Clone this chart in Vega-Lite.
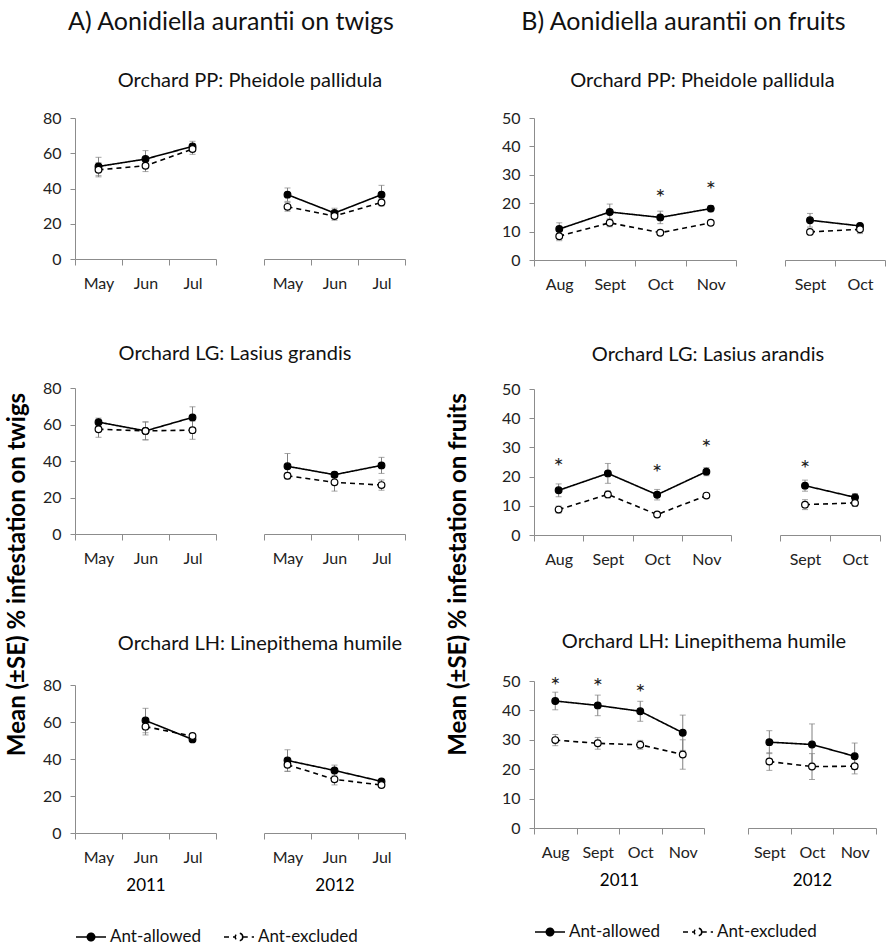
{
"$schema": "https://vega.github.io/schema/vega-lite/v6.json",
"padding": {"left": 5, "top": 10, "right": 0, "bottom": 0},
"data": {"values": [
{"c":"A","r":1,"yr":"2011","m":"May","s":"Ant-allowed","v":52.5,"se":5.2},
{"c":"A","r":1,"yr":"2011","m":"May","s":"Ant-excluded","v":50.6,"se":4},
{"c":"A","r":1,"yr":"2011","m":"Jun","s":"Ant-allowed","v":56.7,"se":4.8},
{"c":"A","r":1,"yr":"2011","m":"Jun","s":"Ant-excluded","v":52.9,"se":3.3},
{"c":"A","r":1,"yr":"2011","m":"Jul","s":"Ant-allowed","v":63.9,"se":2.9},
{"c":"A","r":1,"yr":"2011","m":"Jul","s":"Ant-excluded","v":62.4,"se":3},
{"c":"A","r":1,"yr":"2012","m":"May","s":"Ant-allowed","v":36.5,"se":3.8},
{"c":"A","r":1,"yr":"2012","m":"May","s":"Ant-excluded","v":29.6,"se":2.5},
{"c":"A","r":1,"yr":"2012","m":"Jun","s":"Ant-allowed","v":26.1,"se":2.7},
{"c":"A","r":1,"yr":"2012","m":"Jun","s":"Ant-excluded","v":24.4,"se":2.4},
{"c":"A","r":1,"yr":"2012","m":"Jul","s":"Ant-allowed","v":36.5,"se":5.3},
{"c":"A","r":1,"yr":"2012","m":"Jul","s":"Ant-excluded","v":32.1,"se":2},
{"c":"A","r":2,"yr":"2011","m":"May","s":"Ant-allowed","v":61.3,"se":2.2},
{"c":"A","r":2,"yr":"2011","m":"May","s":"Ant-excluded","v":57.4,"se":4.4},
{"c":"A","r":2,"yr":"2011","m":"Jun","s":"Ant-allowed","v":56.5,"se":5},
{"c":"A","r":2,"yr":"2011","m":"Jun","s":"Ant-excluded","v":56.5,"se":4.8},
{"c":"A","r":2,"yr":"2011","m":"Jul","s":"Ant-allowed","v":63.9,"se":5.8},
{"c":"A","r":2,"yr":"2011","m":"Jul","s":"Ant-excluded","v":56.9,"se":5},
{"c":"A","r":2,"yr":"2012","m":"May","s":"Ant-allowed","v":37.1,"se":7},
{"c":"A","r":2,"yr":"2012","m":"May","s":"Ant-excluded","v":31.9,"se":1.5},
{"c":"A","r":2,"yr":"2012","m":"Jun","s":"Ant-allowed","v":32.5,"se":1.5},
{"c":"A","r":2,"yr":"2012","m":"Jun","s":"Ant-excluded","v":28.3,"se":4.8},
{"c":"A","r":2,"yr":"2012","m":"Jul","s":"Ant-allowed","v":37.6,"se":4.4},
{"c":"A","r":2,"yr":"2012","m":"Jul","s":"Ant-excluded","v":26.8,"se":2.8},
{"c":"A","r":3,"yr":"2011","m":"Jun","s":"Ant-allowed","v":60.8,"se":6.6},
{"c":"A","r":3,"yr":"2011","m":"Jun","s":"Ant-excluded","v":57.5,"se":4.5},
{"c":"A","r":3,"yr":"2011","m":"Jul","s":"Ant-allowed","v":50.6,"se":1},
{"c":"A","r":3,"yr":"2011","m":"Jul","s":"Ant-excluded","v":52.4,"se":1},
{"c":"A","r":3,"yr":"2012","m":"May","s":"Ant-allowed","v":39.2,"se":5.8},
{"c":"A","r":3,"yr":"2012","m":"May","s":"Ant-excluded","v":36.9,"se":3.6},
{"c":"A","r":3,"yr":"2012","m":"Jun","s":"Ant-allowed","v":33.8,"se":2.9},
{"c":"A","r":3,"yr":"2012","m":"Jun","s":"Ant-excluded","v":29,"se":3},
{"c":"A","r":3,"yr":"2012","m":"Jul","s":"Ant-allowed","v":27.9,"se":1},
{"c":"A","r":3,"yr":"2012","m":"Jul","s":"Ant-excluded","v":25.9,"se":1},
{"c":"B","r":1,"yr":"2011","m":"Aug","s":"Ant-allowed","v":10.9,"se":2.2},
{"c":"B","r":1,"yr":"2011","m":"Aug","s":"Ant-excluded","v":8.4,"se":1.6},
{"c":"B","r":1,"yr":"2011","m":"Sept","s":"Ant-allowed","v":16.9,"se":2.8},
{"c":"B","r":1,"yr":"2011","m":"Sept","s":"Ant-excluded","v":13.1,"se":1.4},
{"c":"B","r":1,"yr":"2011","m":"Oct","s":"Ant-allowed","v":15,"se":2.2,"star":24},
{"c":"B","r":1,"yr":"2011","m":"Oct","s":"Ant-excluded","v":9.6,"se":0.5},
{"c":"B","r":1,"yr":"2011","m":"Nov","s":"Ant-allowed","v":18.1,"se":1.1,"star":26.6},
{"c":"B","r":1,"yr":"2011","m":"Nov","s":"Ant-excluded","v":13.1,"se":0.5},
{"c":"B","r":1,"yr":"2012","m":"Sept","s":"Ant-allowed","v":14,"se":2.4},
{"c":"B","r":1,"yr":"2012","m":"Sept","s":"Ant-excluded","v":9.9,"se":0.5},
{"c":"B","r":1,"yr":"2012","m":"Oct","s":"Ant-allowed","v":12,"se":0.6},
{"c":"B","r":1,"yr":"2012","m":"Oct","s":"Ant-excluded","v":10.8,"se":1.5},
{"c":"B","r":2,"yr":"2011","m":"Aug","s":"Ant-allowed","v":15.3,"se":2.2,"star":25.5},
{"c":"B","r":2,"yr":"2011","m":"Aug","s":"Ant-excluded","v":8.7,"se":1.2},
{"c":"B","r":2,"yr":"2011","m":"Sept","s":"Ant-allowed","v":21.1,"se":3.4},
{"c":"B","r":2,"yr":"2011","m":"Sept","s":"Ant-excluded","v":13.9,"se":1.2},
{"c":"B","r":2,"yr":"2011","m":"Oct","s":"Ant-allowed","v":13.8,"se":1.8,"star":23.4},
{"c":"B","r":2,"yr":"2011","m":"Oct","s":"Ant-excluded","v":7,"se":0.4},
{"c":"B","r":2,"yr":"2011","m":"Nov","s":"Ant-allowed","v":21.7,"se":1.4,"star":31.8},
{"c":"B","r":2,"yr":"2011","m":"Nov","s":"Ant-excluded","v":13.5,"se":0.5},
{"c":"B","r":2,"yr":"2012","m":"Sept","s":"Ant-allowed","v":16.9,"se":1.9,"star":24.7},
{"c":"B","r":2,"yr":"2012","m":"Sept","s":"Ant-excluded","v":10.4,"se":1.7},
{"c":"B","r":2,"yr":"2012","m":"Oct","s":"Ant-allowed","v":12.9,"se":1.3},
{"c":"B","r":2,"yr":"2012","m":"Oct","s":"Ant-excluded","v":11,"se":1.2},
{"c":"B","r":3,"yr":"2011","m":"Aug","s":"Ant-allowed","v":43.2,"se":3,"star":50.5},
{"c":"B","r":3,"yr":"2011","m":"Aug","s":"Ant-excluded","v":29.9,"se":1.9},
{"c":"B","r":3,"yr":"2011","m":"Sept","s":"Ant-allowed","v":41.7,"se":3.5,"star":50.1},
{"c":"B","r":3,"yr":"2011","m":"Sept","s":"Ant-excluded","v":28.8,"se":2},
{"c":"B","r":3,"yr":"2011","m":"Oct","s":"Ant-allowed","v":39.7,"se":3.4,"star":48},
{"c":"B","r":3,"yr":"2011","m":"Oct","s":"Ant-excluded","v":28.3,"se":1.5},
{"c":"B","r":3,"yr":"2011","m":"Nov","s":"Ant-allowed","v":32.4,"se":6},
{"c":"B","r":3,"yr":"2011","m":"Nov","s":"Ant-excluded","v":25,"se":5},
{"c":"B","r":3,"yr":"2012","m":"Sept","s":"Ant-allowed","v":29.2,"se":3.9},
{"c":"B","r":3,"yr":"2012","m":"Sept","s":"Ant-excluded","v":22.6,"se":3},
{"c":"B","r":3,"yr":"2012","m":"Oct","s":"Ant-allowed","v":28.4,"se":7},
{"c":"B","r":3,"yr":"2012","m":"Oct","s":"Ant-excluded","v":20.9,"se":4.4},
{"c":"B","r":3,"yr":"2012","m":"Nov","s":"Ant-allowed","v":24.4,"se":4.5},
{"c":"B","r":3,"yr":"2012","m":"Nov","s":"Ant-excluded","v":21,"se":2.6}
]},
"hconcat": [
{
 "spacing": 12,
 "resolve": {"scale": {"fill": "independent", "strokeDash": "independent"}, "legend": {"fill": "independent", "strokeDash": "independent"}},
 "hconcat": [
  {"width": 1, "height": 912,
   "transform": [{"filter": "datum.c=='none'"}],
   "mark": {"type": "point", "opacity": 0},
   "encoding": {"y": {"field": "v", "type": "quantitative", "title": "Mean (±SE) % infestation on twigs", "scale": {"domain": [0, 1]}, "axis": {"labels": false, "ticks": false, "domain": false, "titlePadding": 0}}}
  },
  {
   "title": {"text": "A) Aonidiella aurantii on twigs", "fontSize": 25, "offset": 36, "dx": 7},
   "spacing": 68,
   "vconcat": [
    {
     "spacing": 53,
     "vconcat": [
      {
       "title": {"text": "Orchard PP: Pheidole pallidula", "fontSize": 20, "offset": 19, "dx": 26},
       "spacing": 46,
       "hconcat": [
        {"width": 141, "height": 141,
         "transform": [{"filter": "datum.c=='A' && datum.r==1 && datum.yr=='2011'"}],
         "encoding": {
          "x": {"field": "m", "type": "nominal", "title": null, "scale": {"type": "band", "domain": ["May","Jun","Jul"], "paddingInner": 0, "paddingOuter": 0}},
          "y": {"field": "v", "type": "quantitative", "title": null, "scale": {"domain": [0, 80]}, "axis": {"values": [0,20,40,60,80]}}
         },
         "layer": [
          {"mark": {"type": "errorbar", "color": "#808080", "ticks": {"size": 6}}, "encoding": {"yError": {"field": "se"}}},
          {"mark": {"type": "line", "color": "black", "strokeWidth": 1.6}, "encoding": {"strokeDash": {"field": "s", "type": "nominal", "title": null, "scale": {"domain": ["Ant-allowed","Ant-excluded"], "range": [[1,0],[5,4]]}}}},
          {"mark": {"type": "point", "filled": true, "size": 45, "stroke": "black", "strokeWidth": 1.2, "opacity": 1}, "encoding": {"fill": {"field": "s", "type": "nominal", "title": null, "scale": {"domain": ["Ant-allowed","Ant-excluded"], "range": ["black","white"]}}}}
         ]},
        {"width": 141, "height": 141,
         "transform": [{"filter": "datum.c=='A' && datum.r==1 && datum.yr=='2012'"}],
         "encoding": {
          "x": {"field": "m", "type": "nominal", "title": null, "scale": {"type": "band", "domain": ["May","Jun","Jul"], "paddingInner": 0, "paddingOuter": 0}},
          "y": {"field": "v", "type": "quantitative", "scale": {"domain": [0, 80]}, "axis": null}
         },
         "layer": [
          {"mark": {"type": "errorbar", "color": "#808080", "ticks": {"size": 6}}, "encoding": {"yError": {"field": "se"}}},
          {"mark": {"type": "line", "color": "black", "strokeWidth": 1.6}, "encoding": {"strokeDash": {"field": "s", "type": "nominal", "title": null, "scale": {"domain": ["Ant-allowed","Ant-excluded"], "range": [[1,0],[5,4]]}}}},
          {"mark": {"type": "point", "filled": true, "size": 45, "stroke": "black", "strokeWidth": 1.2, "opacity": 1}, "encoding": {"fill": {"field": "s", "type": "nominal", "title": null, "scale": {"domain": ["Ant-allowed","Ant-excluded"], "range": ["black","white"]}}}}
         ]}
       ]
      },
      {
       "title": {"text": "Orchard LG: Lasius grandis", "fontSize": 20, "offset": 16, "dx": 11},
       "spacing": 46,
       "hconcat": [
        {"width": 141, "height": 146,
         "transform": [{"filter": "datum.c=='A' && datum.r==2 && datum.yr=='2011'"}],
         "encoding": {
          "x": {"field": "m", "type": "nominal", "title": null, "scale": {"type": "band", "domain": ["May","Jun","Jul"], "paddingInner": 0, "paddingOuter": 0}},
          "y": {"field": "v", "type": "quantitative", "title": null, "scale": {"domain": [0, 80]}, "axis": {"values": [0,20,40,60,80]}}
         },
         "layer": [
          {"mark": {"type": "errorbar", "color": "#808080", "ticks": {"size": 6}}, "encoding": {"yError": {"field": "se"}}},
          {"mark": {"type": "line", "color": "black", "strokeWidth": 1.6}, "encoding": {"strokeDash": {"field": "s", "type": "nominal", "title": null, "scale": {"domain": ["Ant-allowed","Ant-excluded"], "range": [[1,0],[5,4]]}}}},
          {"mark": {"type": "point", "filled": true, "size": 45, "stroke": "black", "strokeWidth": 1.2, "opacity": 1}, "encoding": {"fill": {"field": "s", "type": "nominal", "title": null, "scale": {"domain": ["Ant-allowed","Ant-excluded"], "range": ["black","white"]}}}}
         ]},
        {"width": 141, "height": 146,
         "transform": [{"filter": "datum.c=='A' && datum.r==2 && datum.yr=='2012'"}],
         "encoding": {
          "x": {"field": "m", "type": "nominal", "title": null, "scale": {"type": "band", "domain": ["May","Jun","Jul"], "paddingInner": 0, "paddingOuter": 0}},
          "y": {"field": "v", "type": "quantitative", "scale": {"domain": [0, 80]}, "axis": null}
         },
         "layer": [
          {"mark": {"type": "errorbar", "color": "#808080", "ticks": {"size": 6}}, "encoding": {"yError": {"field": "se"}}},
          {"mark": {"type": "line", "color": "black", "strokeWidth": 1.6}, "encoding": {"strokeDash": {"field": "s", "type": "nominal", "title": null, "scale": {"domain": ["Ant-allowed","Ant-excluded"], "range": [[1,0],[5,4]]}}}},
          {"mark": {"type": "point", "filled": true, "size": 45, "stroke": "black", "strokeWidth": 1.2, "opacity": 1}, "encoding": {"fill": {"field": "s", "type": "nominal", "title": null, "scale": {"domain": ["Ant-allowed","Ant-excluded"], "range": ["black","white"]}}}}
         ]}
       ]
      }
     ]
    },
    {
     "title": {"text": "Orchard LH: Linepithema humile", "fontSize": 20, "offset": 23, "dx": 36},
     "spacing": 46,
     "hconcat": [
      {"width": 141, "height": 148,
       "transform": [{"filter": "datum.c=='A' && datum.r==3 && datum.yr=='2011'"}],
       "encoding": {
        "x": {"field": "m", "type": "nominal", "title": "2011", "scale": {"type": "band", "domain": ["May","Jun","Jul"], "paddingInner": 0, "paddingOuter": 0}},
        "y": {"field": "v", "type": "quantitative", "title": null, "scale": {"domain": [0, 80]}, "axis": {"values": [0,20,40,60,80]}}
       },
       "layer": [
        {"mark": {"type": "errorbar", "color": "#808080", "ticks": {"size": 6}}, "encoding": {"yError": {"field": "se"}}},
        {"mark": {"type": "line", "color": "black", "strokeWidth": 1.6}, "encoding": {"strokeDash": {"field": "s", "type": "nominal", "title": null, "scale": {"domain": ["Ant-allowed","Ant-excluded"], "range": [[1,0],[5,4]]}}}},
        {"mark": {"type": "point", "filled": true, "size": 45, "stroke": "black", "strokeWidth": 1.2, "opacity": 1}, "encoding": {"fill": {"field": "s", "type": "nominal", "title": null, "scale": {"domain": ["Ant-allowed","Ant-excluded"], "range": ["black","white"]}}}}
       ]},
      {"width": 141, "height": 148,
       "transform": [{"filter": "datum.c=='A' && datum.r==3 && datum.yr=='2012'"}],
       "encoding": {
        "x": {"field": "m", "type": "nominal", "title": "2012", "scale": {"type": "band", "domain": ["May","Jun","Jul"], "paddingInner": 0, "paddingOuter": 0}},
        "y": {"field": "v", "type": "quantitative", "scale": {"domain": [0, 80]}, "axis": null}
       },
       "layer": [
        {"mark": {"type": "errorbar", "color": "#808080", "ticks": {"size": 6}}, "encoding": {"yError": {"field": "se"}}},
        {"mark": {"type": "line", "color": "black", "strokeWidth": 1.6}, "encoding": {"strokeDash": {"field": "s", "type": "nominal", "title": null, "scale": {"domain": ["Ant-allowed","Ant-excluded"], "range": [[1,0],[5,4]]}}}},
        {"mark": {"type": "point", "filled": true, "size": 45, "stroke": "black", "strokeWidth": 1.2, "opacity": 1}, "encoding": {"fill": {"field": "s", "type": "nominal", "title": null, "scale": {"domain": ["Ant-allowed","Ant-excluded"], "range": ["black","white"]}}}}
       ]}
     ]
    }
   ]
  }
 ]
},
{
 "spacing": 30,
 "resolve": {"scale": {"fill": "independent", "strokeDash": "independent"}, "legend": {"fill": "independent", "strokeDash": "independent"}},
 "hconcat": [
  {"width": 1, "height": 912,
   "transform": [{"filter": "datum.c=='none'"}],
   "mark": {"type": "point", "opacity": 0},
   "encoding": {"y": {"field": "v", "type": "quantitative", "title": "Mean (±SE) % infestation on fruits", "scale": {"domain": [0, 1]}, "axis": {"labels": false, "ticks": false, "domain": false, "titlePadding": 0}}}
  },
  {
   "title": {"text": "B) Aonidiella aurantii on fruits", "fontSize": 25, "offset": 36, "dx": -10},
   "spacing": 65,
   "vconcat": [
    {
     "spacing": 53,
     "vconcat": [
      {
       "title": {"text": "Orchard PP: Pheidole pallidula", "fontSize": 20, "offset": 19, "dx": 9},
       "spacing": 47,
       "hconcat": [
        {"width": 202, "height": 142,
         "transform": [{"filter": "datum.c=='B' && datum.r==1 && datum.yr=='2011'"}],
         "encoding": {
          "x": {"field": "m", "type": "nominal", "title": null, "scale": {"type": "band", "domain": ["Aug","Sept","Oct","Nov"], "paddingInner": 0, "paddingOuter": 0}},
          "y": {"field": "v", "type": "quantitative", "title": null, "scale": {"domain": [0, 50]}, "axis": {"values": [0,10,20,30,40,50]}}
         },
         "layer": [
          {"mark": {"type": "errorbar", "color": "#808080", "ticks": {"size": 6}}, "encoding": {"yError": {"field": "se"}}},
          {"mark": {"type": "line", "color": "black", "strokeWidth": 1.6}, "encoding": {"strokeDash": {"field": "s", "type": "nominal", "title": null, "scale": {"domain": ["Ant-allowed","Ant-excluded"], "range": [[1,0],[5,4]]}}}},
          {"mark": {"type": "point", "filled": true, "size": 45, "stroke": "black", "strokeWidth": 1.2, "opacity": 1}, "encoding": {"fill": {"field": "s", "type": "nominal", "title": null, "scale": {"domain": ["Ant-allowed","Ant-excluded"], "range": ["black","white"]}}}},
          {"transform": [{"filter": "datum.star != null"}], "mark": {"type": "text", "text": "*", "fontSize": 24, "dy": 7, "fill": "#222"}, "encoding": {"y": {"field": "star", "type": "quantitative", "title": null}}}
         ]},
        {"width": 100, "height": 142,
         "transform": [{"filter": "datum.c=='B' && datum.r==1 && datum.yr=='2012'"}],
         "encoding": {
          "x": {"field": "m", "type": "nominal", "title": null, "scale": {"type": "band", "domain": ["Sept","Oct"], "paddingInner": 0, "paddingOuter": 0}},
          "y": {"field": "v", "type": "quantitative", "scale": {"domain": [0, 50]}, "axis": null}
         },
         "layer": [
          {"mark": {"type": "errorbar", "color": "#808080", "ticks": {"size": 6}}, "encoding": {"yError": {"field": "se"}}},
          {"mark": {"type": "line", "color": "black", "strokeWidth": 1.6}, "encoding": {"strokeDash": {"field": "s", "type": "nominal", "title": null, "scale": {"domain": ["Ant-allowed","Ant-excluded"], "range": [[1,0],[5,4]]}}}},
          {"mark": {"type": "point", "filled": true, "size": 45, "stroke": "black", "strokeWidth": 1.2, "opacity": 1}, "encoding": {"fill": {"field": "s", "type": "nominal", "title": null, "scale": {"domain": ["Ant-allowed","Ant-excluded"], "range": ["black","white"]}}}}
         ]}
       ]
      },
      {
       "title": {"text": "Orchard LG: Lasius arandis", "fontSize": 20, "offset": 16, "dx": 17},
       "spacing": 47,
       "hconcat": [
        {"width": 197, "height": 146,
         "transform": [{"filter": "datum.c=='B' && datum.r==2 && datum.yr=='2011'"}],
         "encoding": {
          "x": {"field": "m", "type": "nominal", "title": null, "scale": {"type": "band", "domain": ["Aug","Sept","Oct","Nov"], "paddingInner": 0, "paddingOuter": 0}},
          "y": {"field": "v", "type": "quantitative", "title": null, "scale": {"domain": [0, 50]}, "axis": {"values": [0,10,20,30,40,50]}}
         },
         "layer": [
          {"mark": {"type": "errorbar", "color": "#808080", "ticks": {"size": 6}}, "encoding": {"yError": {"field": "se"}}},
          {"mark": {"type": "line", "color": "black", "strokeWidth": 1.6}, "encoding": {"strokeDash": {"field": "s", "type": "nominal", "title": null, "scale": {"domain": ["Ant-allowed","Ant-excluded"], "range": [[1,0],[5,4]]}}}},
          {"mark": {"type": "point", "filled": true, "size": 45, "stroke": "black", "strokeWidth": 1.2, "opacity": 1}, "encoding": {"fill": {"field": "s", "type": "nominal", "title": null, "scale": {"domain": ["Ant-allowed","Ant-excluded"], "range": ["black","white"]}}}},
          {"transform": [{"filter": "datum.star != null"}], "mark": {"type": "text", "text": "*", "fontSize": 24, "dy": 7, "fill": "#222"}, "encoding": {"y": {"field": "star", "type": "quantitative", "title": null}}}
         ]},
        {"width": 100, "height": 146,
         "transform": [{"filter": "datum.c=='B' && datum.r==2 && datum.yr=='2012'"}],
         "encoding": {
          "x": {"field": "m", "type": "nominal", "title": null, "scale": {"type": "band", "domain": ["Sept","Oct"], "paddingInner": 0, "paddingOuter": 0}},
          "y": {"field": "v", "type": "quantitative", "scale": {"domain": [0, 50]}, "axis": null}
         },
         "layer": [
          {"mark": {"type": "errorbar", "color": "#808080", "ticks": {"size": 6}}, "encoding": {"yError": {"field": "se"}}},
          {"mark": {"type": "line", "color": "black", "strokeWidth": 1.6}, "encoding": {"strokeDash": {"field": "s", "type": "nominal", "title": null, "scale": {"domain": ["Ant-allowed","Ant-excluded"], "range": [[1,0],[5,4]]}}}},
          {"mark": {"type": "point", "filled": true, "size": 45, "stroke": "black", "strokeWidth": 1.2, "opacity": 1}, "encoding": {"fill": {"field": "s", "type": "nominal", "title": null, "scale": {"domain": ["Ant-allowed","Ant-excluded"], "range": ["black","white"]}}}},
          {"transform": [{"filter": "datum.star != null"}], "mark": {"type": "text", "text": "*", "fontSize": 24, "dy": 7, "fill": "#222"}, "encoding": {"y": {"field": "star", "type": "quantitative"}}}
         ]}
       ]
      }
     ]
    },
    {
     "title": {"text": "Orchard LH: Linepithema humile", "fontSize": 20, "offset": 21, "dx": 15},
     "spacing": 42,
     "hconcat": [
      {"width": 170, "height": 147,
       "transform": [{"filter": "datum.c=='B' && datum.r==3 && datum.yr=='2011'"}],
       "encoding": {
        "x": {"field": "m", "type": "nominal", "title": "2011", "scale": {"type": "band", "domain": ["Aug","Sept","Oct","Nov"], "paddingInner": 0, "paddingOuter": 0}},
        "y": {"field": "v", "type": "quantitative", "title": null, "scale": {"domain": [0, 50]}, "axis": {"values": [0,10,20,30,40,50]}}
       },
       "layer": [
        {"mark": {"type": "errorbar", "color": "#808080", "ticks": {"size": 6}}, "encoding": {"yError": {"field": "se"}}},
        {"mark": {"type": "line", "color": "black", "strokeWidth": 1.6}, "encoding": {"strokeDash": {"field": "s", "type": "nominal", "title": null, "scale": {"domain": ["Ant-allowed","Ant-excluded"], "range": [[1,0],[5,4]]}}}},
        {"mark": {"type": "point", "filled": true, "size": 45, "stroke": "black", "strokeWidth": 1.2, "opacity": 1}, "encoding": {"fill": {"field": "s", "type": "nominal", "title": null, "scale": {"domain": ["Ant-allowed","Ant-excluded"], "range": ["black","white"]}}}},
        {"transform": [{"filter": "datum.star != null"}], "mark": {"type": "text", "text": "*", "fontSize": 24, "dy": 7, "fill": "#222"}, "encoding": {"y": {"field": "star", "type": "quantitative", "title": null}}}
       ]},
      {"width": 128, "height": 147,
       "transform": [{"filter": "datum.c=='B' && datum.r==3 && datum.yr=='2012'"}],
       "encoding": {
        "x": {"field": "m", "type": "nominal", "title": "2012", "scale": {"type": "band", "domain": ["Sept","Oct","Nov"], "paddingInner": 0, "paddingOuter": 0}},
        "y": {"field": "v", "type": "quantitative", "scale": {"domain": [0, 50]}, "axis": null}
       },
       "layer": [
        {"mark": {"type": "errorbar", "color": "#808080", "ticks": {"size": 6}}, "encoding": {"yError": {"field": "se"}}},
        {"mark": {"type": "line", "color": "black", "strokeWidth": 1.6}, "encoding": {"strokeDash": {"field": "s", "type": "nominal", "title": null, "scale": {"domain": ["Ant-allowed","Ant-excluded"], "range": [[1,0],[5,4]]}}}},
        {"mark": {"type": "point", "filled": true, "size": 45, "stroke": "black", "strokeWidth": 1.2, "opacity": 1}, "encoding": {"fill": {"field": "s", "type": "nominal", "title": null, "scale": {"domain": ["Ant-allowed","Ant-excluded"], "range": ["black","white"]}}}}
       ]}
     ]
    }
   ]
  }
 ]
}
],
"spacing": 40,
"config": {
 "font": "Lato",
 "view": {"stroke": null},
 "title": {"fontWeight": "normal", "color": "#111", "anchor": "middle"},
 "axis": {"domainColor": "#8c8c8c", "tickColor": "#8c8c8c", "labelColor": "#222", "labelFontSize": 16, "grid": false, "titleColor": "#000"},
 "axisX": {"tickBand": "extent", "labelAngle": 0, "tickSize": 6, "labelPadding": 10, "titleFontSize": 17, "titleFontWeight": "normal", "titlePadding": 12},
 "axisY": {"tickSize": 5, "labelPadding": 9, "titleFontSize": 24, "titleFontWeight": "bold"},
 "legend": {"orient": "bottom", "labelFontSize": 17, "labelColor": "#111", "symbolType": "M-1,0H-0.25M0.25,0H1M0.25,0A0.25,0.25,0,1,1,-0.25,0A0.25,0.25,0,1,1,0.25,0Z", "symbolSize": 900, "symbolStrokeColor": "black", "symbolStrokeWidth": 1.5, "columnPadding": 20, "labelOffset": 3, "offset": 28}
}
}
